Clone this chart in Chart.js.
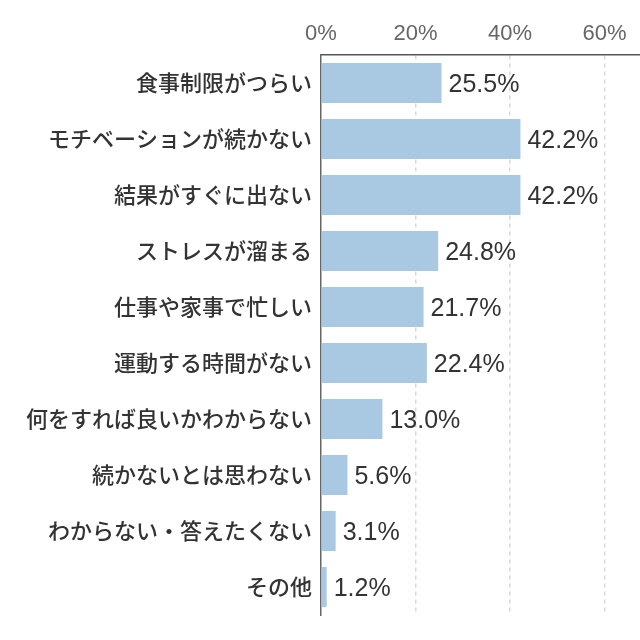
<!DOCTYPE html>
<html>
<head>
<meta charset="utf-8">
<script src="https://cdn.jsdelivr.net/npm/chart.js@4"></script>
<style>
html,body{margin:0;padding:0;background:#fff;}
#wrap{width:640px;height:640px;}
</style>
</head>
<body>
<div id="wrap"><canvas id="c" width="640" height="640"></canvas></div>
<script>
const categories = ["食事制限がつらい","モチベーションが続かない","結果がすぐに出ない","ストレスが溜まる","仕事や家事で忙しい","運動する時間がない","何をすれば良いかわからない","続かないとは思わない","わからない・答えたくない","その他"];
const values = [25.5, 42.2, 42.2, 24.8, 21.7, 22.4, 13.0, 5.6, 3.1, 1.2];
const tickValues = [0, 20, 40, 60];

const valueLabels = {
  id: 'valueLabels',
  afterDatasetsDraw(chart) {
    const ctx = chart.ctx;
    const meta = chart.getDatasetMeta(0);
    ctx.save();
    ctx.font = '400 25px "Liberation Sans", Arial, sans-serif';
    ctx.fillStyle = '#333';
    ctx.textAlign = 'left';
    ctx.textBaseline = 'middle';
    meta.data.forEach((bar, i) => {
      ctx.fillText(values[i].toFixed(1) + '%', bar.x + 7, bar.y + 2);
    });
    ctx.restore();
  }
};

new Chart(document.getElementById('c'), {
  type: 'bar',
  data: {
    labels: categories,
    datasets: [{
      data: values,
      backgroundColor: '#a9c8e1',
      borderWidth: 0,
      categoryPercentage: 1,
      barPercentage: 0.714
    }]
  },
  options: {
    indexAxis: 'y',
    responsive: false,
    animation: false,
    devicePixelRatio: 1,
    layout: { padding: { left: 0, right: 0, top: 0, bottom: 25 } },
    plugins: { legend: { display: false }, tooltip: { enabled: false } },
    scales: {
      x: {
        position: 'top',
        min: 0,
        max: 67.5,
        afterBuildTicks(scale) {
          scale.ticks = tickValues.map(v => ({ value: v }));
        },
        afterFit(scale) { scale.height = 55; },
        ticks: {
          stepSize: 20,
          padding: 8,
          color: '#666',
          font: { family: '"Liberation Sans", Arial, sans-serif', size: 22, weight: '300' },
          callback: v => v + '%'
        },
        grid: {
          drawTicks: false,
          color: ctx => ctx.tick && ctx.tick.value === 0 ? 'rgba(0,0,0,0)' : '#d8d8d8',
          lineWidth: 1.5
        },
        border: { display: true, color: '#555', width: 1.5, dash: [4, 4] }
      },
      y: {
        afterFit(scale) { scale.width = 321; },
        ticks: {
          padding: 9,
          color: '#333',
          font: { family: '"Noto Sans CJK JP", sans-serif', size: 22, weight: '500' }
        },
        grid: { display: false, drawTicks: false },
        border: { display: true, color: '#666', width: 1.5 }
      }
    }
  },
  plugins: [valueLabels]
});
</script>
</body>
</html>
